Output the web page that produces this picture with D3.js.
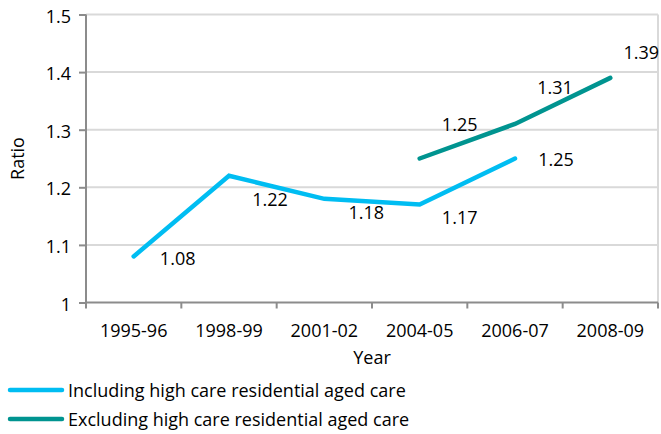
<!DOCTYPE html>
<html>
<head>
<meta charset="utf-8">
<script src="https://cdn.jsdelivr.net/npm/d3@7"></script>
<style>
  html, body { margin: 0; padding: 0; background: #fff; }
  svg { display: block; }
  text { font-family: "Open Sans", "Noto Sans", sans-serif; fill: #000; }
</style>
</head>
<body>
<svg id="chart" width="661" height="434"></svg>
<script>
// ---- data ----
const categories = ["1995-96", "1998-99", "2001-02", "2004-05", "2006-07", "2008-09"];
const includingValues = [1.08, 1.22, 1.18, 1.17, 1.25, null];
const excludingValues = [null, null, null, 1.25, 1.31, 1.39];
const yTicks = [1, 1.1, 1.2, 1.3, 1.4, 1.5];
const seriesNames = ["Including high care residential aged care", "Excluding high care residential aged care"];
const xTitle = "Year";
const yTitle = "Ratio";

(function () {
// ---- layout / style ----
const colors = ["#00BDF2", "#009490"];
// label offsets (dx, dy from point) per series, per category
const labelOffsets = [
  [[44, 9], [41, 30], [42, 20], [40, 19], [41, 7], null],
  [null, null, null, [40, -28], [40, -30], [31, -19]]
];

const svg = d3.select("#chart");
const pLeft = 86, pRight = 658, pTop = 14.5, pBottom = 302.5;
const fs = 18;

const x = d3.scaleBand().domain(categories).range([pLeft, pRight]);
const y = d3.scaleLinear().domain([1, 1.5]).range([pBottom, pTop]);

// gridlines
svg.append("g").selectAll("line").data(yTicks.filter(d => d !== 1)).join("line")
  .attr("x1", pLeft).attr("x2", pRight)
  .attr("y1", d => y(d)).attr("y2", d => y(d))
  .attr("stroke", "#d9d9d9").attr("stroke-width", 2);
// right border
svg.append("line").attr("x1", pRight).attr("x2", pRight).attr("y1", pTop).attr("y2", pBottom)
  .attr("stroke", "#d9d9d9").attr("stroke-width", 2);

// y axis
const yAxis = svg.append("g").attr("transform", `translate(${pLeft},0)`)
  .call(d3.axisLeft(y).tickValues(yTicks).tickFormat(d3.format("")).tickSize(7).tickPadding(8));
yAxis.select(".domain").attr("stroke", "#8c8c8c").attr("stroke-width", 2).attr("d", `M0,${pTop}V${pBottom}`);
yAxis.selectAll(".tick line").attr("stroke", "#8c8c8c").attr("stroke-width", 2);
yAxis.selectAll(".tick text").attr("font-size", fs).attr("font-family", '"Open Sans", sans-serif').attr("fill", "#000").attr("dy", "0.42em");

// x axis
const xAxis = svg.append("g").attr("transform", `translate(0,${pBottom})`)
  .call(d3.axisBottom(x).tickSize(0).tickPadding(22));
xAxis.select(".domain").attr("stroke", "#8c8c8c").attr("stroke-width", 2).attr("d", `M${pLeft},0H${pRight}`);
xAxis.selectAll(".tick text").attr("font-size", fs).attr("font-family", '"Open Sans", sans-serif').attr("fill", "#000");
// boundary tick marks
const bounds = categories.map(c => x(c)).concat([pRight]);
svg.append("g").selectAll("line").data(bounds).join("line")
  .attr("x1", d => d).attr("x2", d => d).attr("y1", pBottom).attr("y2", pBottom + 6)
  .attr("stroke", "#8c8c8c").attr("stroke-width", 2);

// titles
svg.append("text").attr("x", (pLeft + pRight) / 2).attr("y", 364).attr("text-anchor", "middle")
  .attr("font-size", fs).text(xTitle);
svg.append("text").attr("transform", `translate(24,${(pTop + pBottom) / 2}) rotate(-90)`)
  .attr("text-anchor", "middle").attr("font-size", fs).text(yTitle);

// lines
const series = [includingValues, excludingValues];
const line = d3.line()
  .defined(d => d.v !== null)
  .x(d => x(d.c) + x.bandwidth() / 2)
  .y(d => y(d.v));
series.forEach((vals, si) => {
  const pts = categories.map((c, i) => ({ c, v: vals[i] }));
  svg.append("path").datum(pts).attr("d", line)
    .attr("fill", "none").attr("stroke", colors[si]).attr("stroke-width", 4.5)
    .attr("stroke-linejoin", "miter").attr("stroke-linecap", "round");
  svg.append("g").selectAll("text").data(pts.map((p, i) => ({ ...p, o: labelOffsets[si][i] })).filter(p => p.v !== null))
    .join("text")
    .attr("x", p => x(p.c) + x.bandwidth() / 2 + p.o[0])
    .attr("y", p => y(p.v) + p.o[1])
    .attr("text-anchor", "middle").attr("font-size", fs)
    .text(p => d3.format(".2f")(p.v));
});

// legend
const lg = svg.append("g");
seriesNames.forEach((name, i) => {
  const ly = 390 + i * 29;
  lg.append("line").attr("x1", 10).attr("x2", 62).attr("y1", ly).attr("y2", ly)
    .attr("stroke", colors[i]).attr("stroke-width", 4.5).attr("stroke-linecap", "round");
  lg.append("text").attr("x", 68).attr("y", ly + 7).attr("font-size", fs).text(name);
});
})();
</script>
</body>
</html>
